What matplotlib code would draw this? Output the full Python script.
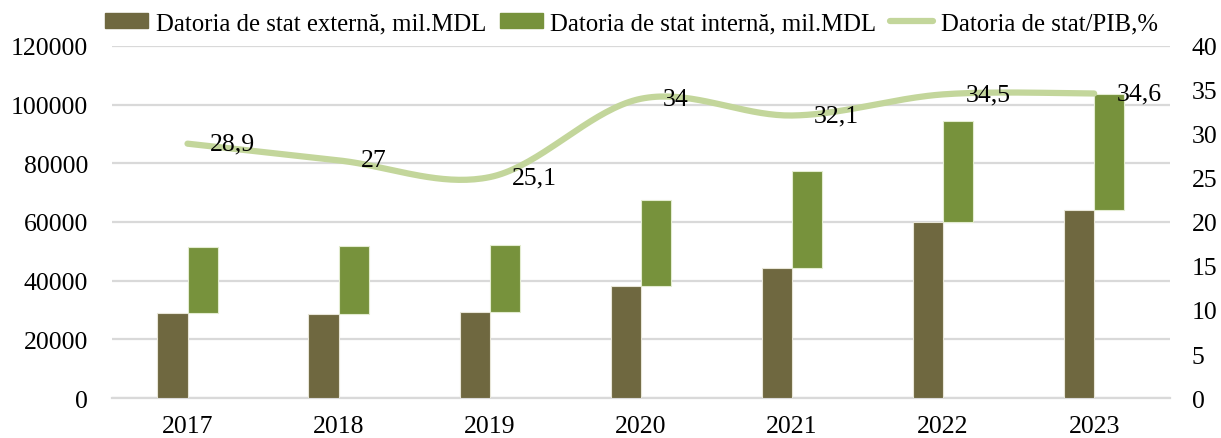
import matplotlib
matplotlib.use('Agg')
import matplotlib.pyplot as plt
import numpy as np
from matplotlib.patches import Patch
from matplotlib.lines import Line2D

# data
years = ['2017', '2018', '2019', '2020', '2021', '2022', '2023']
external_debt = [29000, 28600, 29200, 38300, 44300, 60000, 64000]   # mil.MDL
total_debt = [51500, 51800, 52200, 67600, 77500, 94300, 103600]      # top of green bar
debt_gdp = [28.9, 27.0, 25.1, 34.0, 32.1, 34.5, 34.6]                # %
debt_gdp_labels = ['28,9', '27', '25,1', '34', '32,1', '34,5', '34,6']

internal_debt = [t - e for t, e in zip(total_debt, external_debt)]

C_EXT = '#6f6840'
C_INT = '#77923c'
C_LINE = '#c3d69b'
C_GRID = '#d9d9d9'

plt.rcParams['font.family'] = ['Liberation Serif', 'DejaVu Serif']
FS = 18.5


def smooth_curve(xs, ys, n=40):
    """Excel-like smoothed line: Catmull-Rom as cubic Bezier segments."""
    p = np.column_stack([xs, ys]).astype(float)
    pts = np.vstack([p[0], p, p[-1]])
    out = []
    t = np.linspace(0, 1, n)[:, None]
    for i in range(1, len(pts) - 2):
        p0, p3 = pts[i], pts[i + 1]
        c1 = p0 + (pts[i + 1] - pts[i - 1]) / 6.0
        c2 = p3 - (pts[i + 2] - pts[i]) / 6.0
        seg = ((1 - t) ** 3) * p0 + 3 * ((1 - t) ** 2) * t * c1 + 3 * (1 - t) * t ** 2 * c2 + t ** 3 * p3
        out.append(seg if i == 1 else seg[1:])
    out = np.vstack(out)
    return out[:, 0], out[:, 1]


fig = plt.figure(figsize=(12.21, 4.39), dpi=100)
ax = fig.add_axes([0.0917, 0.0911, 0.958 - 0.0917, 0.893 - 0.0911])

x = np.arange(len(years))
w = 0.2
ax.bar(x, external_debt, width=-w, align='edge', color=C_EXT,
       edgecolor='#e8e6d8', linewidth=0.8, zorder=3)
ax.bar(x, internal_debt, width=w, align='edge', bottom=external_debt,
       color=C_INT, edgecolor='#e3ecd0', linewidth=0.8, zorder=3)

ax.set_xlim(-0.5, len(years) - 0.5)
ax.set_ylim(0, 120000)
ax.set_yticks(np.arange(0, 120001, 20000))
ax.set_xticks(x)
ax.set_xticklabels(years)
ax.yaxis.grid(True, color=C_GRID, linewidth=1.6, zorder=0)
ax.set_axisbelow(True)
for s in ['top', 'right', 'left']:
    ax.spines[s].set_visible(False)
ax.spines['bottom'].set_color(C_GRID)
ax.spines['bottom'].set_linewidth(1.6)
ax.tick_params(axis='both', length=0, labelsize=FS)
ax.tick_params(axis='y', pad=17)
ax.tick_params(axis='x', pad=12)

ax2 = ax.twinx()
ax2.set_ylim(0, 40)
ax2.set_yticks(np.arange(0, 41, 5))
for s in ax2.spines.values():
    s.set_visible(False)
ax2.tick_params(axis='y', length=0, labelsize=FS, pad=16)

sx, sy = smooth_curve(x, debt_gdp)
ax2.plot(sx, sy, color=C_LINE, linewidth=4.5, solid_capstyle='round', zorder=4)
for xi, yi, lab in zip(x, debt_gdp, debt_gdp_labels):
    ax2.annotate(lab, (xi, yi), xytext=(16, 0), textcoords='offset points',
                 ha='left', va='center', fontsize=FS, zorder=5)

handles = [Patch(facecolor=C_EXT, edgecolor=C_EXT),
           Patch(facecolor=C_INT, edgecolor=C_INT),
           Line2D([0], [0], color=C_LINE, linewidth=4.5, solid_capstyle='round')]
labels = ['Datoria de stat externă, mil.MDL', 'Datoria de stat internă, mil.MDL',
          'Datoria de stat/PIB,%']
fig.legend(handles, labels, loc='center', bbox_to_anchor=(0.517, 0.945), ncol=3,
           frameon=False, fontsize=17.8, handlelength=1.75, handleheight=0.55,
           handletextpad=0.3, columnspacing=0.55, borderaxespad=0)

fig.savefig('out.png', dpi=100)
